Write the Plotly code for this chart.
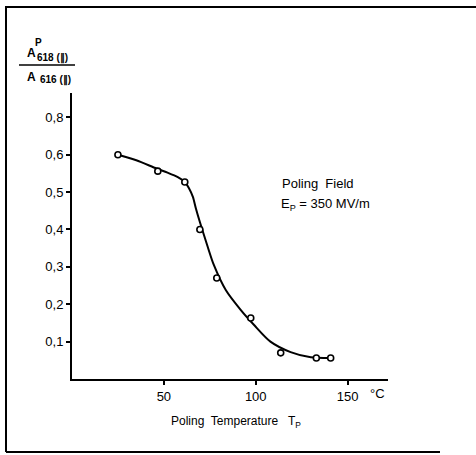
import plotly.graph_objects as go

# Measured points
temp_pts = [25, 46.7, 61.4, 69.6, 78.8, 97.3, 113.6, 133, 140.8]
ratio_pts = [0.600, 0.556, 0.527, 0.400, 0.270, 0.163, 0.070, 0.056, 0.056]

# Hand-drawn fit curve
temp_curve = [25, 35, 46, 52, 57.6, 61.4, 63.6, 65.8, 67.4, 69.6, 73.9, 77.2, 83.7, 91.8,
              99, 108, 119, 130, 141]
ratio_curve = [0.600, 0.585, 0.563, 0.552, 0.540, 0.527, 0.511, 0.487, 0.457, 0.420, 0.353,
               0.305, 0.238, 0.185, 0.145, 0.100, 0.072, 0.058, 0.056]

x_tickvals = [50, 100, 150]
x_ticktext = ["50", "100", "150"]
y_tickvals = [0.1, 0.2, 0.3, 0.4, 0.5, 0.6, 0.7]
y_ticktext = ["0,1", "0,2", "0,3", "0,4", "0,5", "0,6", "0,8"]

FONT = "Liberation Sans"
W, H = 476, 455
L, R, T, B = 72, 88, 93, 76
pw, ph = W - L - R, H - T - B

def px(x):
    return (x - L) / pw

def py(y):
    return (H - B - y) / ph

fig = go.Figure()
fig.add_trace(go.Scatter(x=temp_curve, y=ratio_curve, mode="lines",
                         line=dict(color="black", width=2, shape="spline", smoothing=0.8),
                         hoverinfo="skip", showlegend=False))
fig.add_trace(go.Scatter(x=temp_pts, y=ratio_pts, mode="markers",
                         marker=dict(symbol="circle", size=6, color="white",
                                     line=dict(color="black", width=1.6)),
                         showlegend=False))

fig.update_layout(
    width=W, height=H,
    margin=dict(l=L, r=R, t=T, b=B),
    paper_bgcolor="white", plot_bgcolor="white",
    font=dict(family=FONT, size=11, color="black"),
    xaxis=dict(range=[0, 172], tickvals=x_tickvals, ticktext=x_ticktext,
               showgrid=False, zeroline=False, showline=True, linecolor="black",
               linewidth=2, ticks="outside", ticklen=4, tickwidth=1.5, tickcolor="black",
               tickfont=dict(family=FONT, size=13, color="black")),
    yaxis=dict(range=[0, 0.765], tickvals=y_tickvals, ticktext=y_ticktext,
               showgrid=False, zeroline=False, showline=True, linecolor="black",
               linewidth=2, ticks="outside", ticklen=4, tickwidth=1.5, tickcolor="black",
               tickfont=dict(family=FONT, size=13, color="black")),
)

ann = []
def txt(x, y, s, size=11, xanchor="left"):
    ann.append(dict(x=px(x), y=py(y), xref="paper", yref="paper", text=s, showarrow=False,
                    xanchor=xanchor, yanchor="middle",
                    font=dict(family=FONT, size=size, color="black")))

# y-axis fraction label
txt(25, 53, "<b>A</b>", 12)
txt(33, 42, "<b>P</b>", 10)
txt(35, 58, "<b>618 (∥)</b>", 10)
txt(25, 77, "<b>A</b>", 12)
txt(38, 80, "<b>616 (∥)</b>", 10)

# annotation text
txt(280, 183, "Poling  Field", 13)
txt(279, 204, "E<sub>P</sub> = 350 MV/m", 13)
txt(236, 422, "Poling  Temperature   T<sub>P</sub>", 12, xanchor="center")
txt(368, 393, "°C", 13)

fig.update_layout(annotations=ann)

shapes = [
    # fraction bar
    dict(type="line", xref="paper", yref="paper", x0=px(19), x1=px(75), y0=py(65), y1=py(65),
         line=dict(color="black", width=1.5)),
    # outer frame
    dict(type="line", xref="paper", yref="paper", x0=px(6), x1=px(476), y0=py(7), y1=py(7),
         line=dict(color="black", width=2)),
    dict(type="line", xref="paper", yref="paper", x0=px(6), x1=px(6), y0=py(6), y1=py(452),
         line=dict(color="black", width=2)),
    dict(type="line", xref="paper", yref="paper", x0=px(6), x1=px(440), y0=py(452), y1=py(452),
         line=dict(color="black", width=2)),
]
fig.update_layout(shapes=shapes)

fig.write_html("out.html", config={"displayModeBar": False},
               post_script="document.body.style.margin='0';document.body.style.overflow='hidden';")
